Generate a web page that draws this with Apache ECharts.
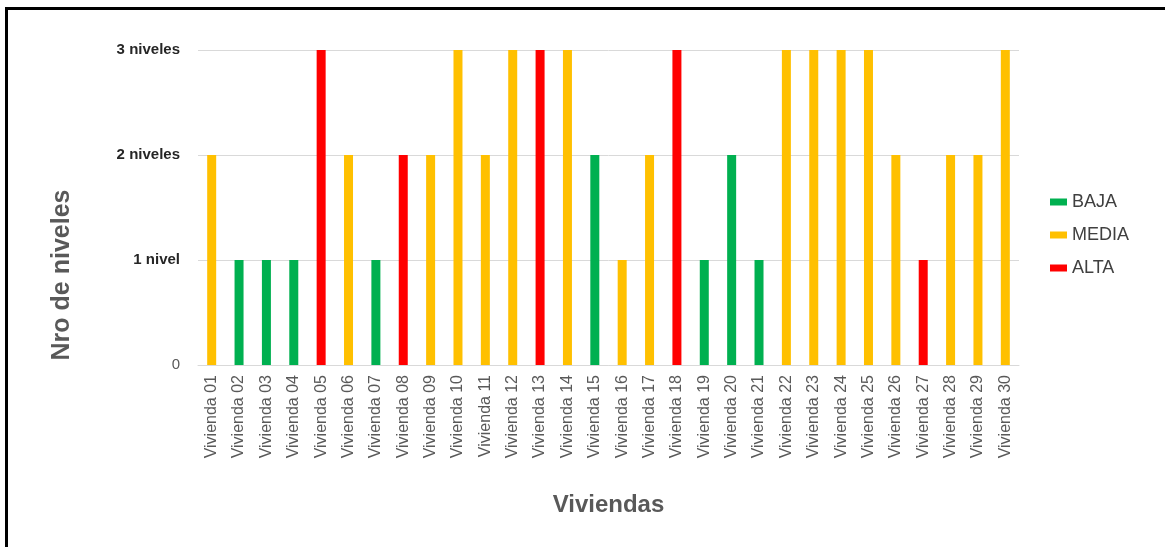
<!DOCTYPE html>
<html>
<head>
<meta charset="utf-8">
<script src="https://cdn.jsdelivr.net/npm/echarts@6/dist/echarts.min.js"></script>
<style>
  body { margin: 0; background: #fff; }
  #chart { position: absolute; left: 0; top: 0; width: 1165px; height: 547px; }
  #frame { position: absolute; left: 5px; top: 7px; right: 0; bottom: 0;
           border-left: 3px solid #000; border-top: 3px solid #000; pointer-events: none; }
</style>
</head>
<body>
<div id="chart"></div>
<div id="frame"></div>
<script>
// datos
var viviendas = [];
for (var i = 1; i <= 30; i++) {
    viviendas.push('Vivienda ' + (i < 10 ? '0' + i : i));
}
var niveles = [2, 1, 1, 1, 3, 2, 1, 2, 2, 3, 2, 3, 3, 3, 2, 1, 2, 3, 1, 2, 1, 3, 3, 3, 3, 2, 1, 2, 2, 3];
var riesgo = ['MEDIA', 'BAJA', 'BAJA', 'BAJA', 'ALTA', 'MEDIA', 'BAJA', 'ALTA', 'MEDIA', 'MEDIA',
              'MEDIA', 'MEDIA', 'ALTA', 'MEDIA', 'BAJA', 'MEDIA', 'MEDIA', 'ALTA', 'BAJA', 'BAJA',
              'BAJA', 'MEDIA', 'MEDIA', 'MEDIA', 'MEDIA', 'MEDIA', 'ALTA', 'MEDIA', 'MEDIA', 'MEDIA'];
var categorias = ['BAJA', 'MEDIA', 'ALTA'];
var colores = ['#00B050', '#FFC000', '#FF0000'];
var etiquetasY = ['0', '1 nivel', '2 niveles', '3 niveles'];

var chart = echarts.init(document.getElementById('chart'));

// una serie por categoria, apiladas para que cada barra quede centrada
var series = categorias.map(function (cat, k) {
    return {
        name: cat,
        type: 'bar',
        stack: 'total',
        barWidth: 9,
        itemStyle: { color: colores[k] },
        data: niveles.map(function (v, j) { return riesgo[j] === cat ? v : '-'; })
    };
});

var option = {
    animation: false,
    grid: { left: 198, right: 146, top: 50, bottom: 182 },
    // titulo del eje Y (en el original no esta centrado con el area)
    graphic: [{
        type: 'text',
        x: 62,
        y: 275,
        rotation: Math.PI / 2,
        style: {
            text: 'Nro de niveles',
            align: 'center',
            verticalAlign: 'middle',
            fontFamily: 'Liberation Sans',
            fontSize: 25,
            fontWeight: 'bold',
            fill: '#595959'
        }
    }],
    legend: {
        orient: 'vertical',
        left: 1045,
        top: 188,
        itemWidth: 17,
        itemHeight: 7,
        itemGap: 15,
        icon: 'rect',
        textStyle: { fontFamily: 'Liberation Sans', fontSize: 18, color: '#404040' },
        data: categorias
    },
    xAxis: {
        type: 'category',
        data: viviendas,
        name: 'Viviendas',
        nameLocation: 'middle',
        nameGap: 128,
        nameTextStyle: { fontFamily: 'Liberation Sans', fontSize: 24, fontWeight: 'bold', color: '#595959' },
        axisLine: { lineStyle: { color: '#d9d9d9' } },
        axisTick: { show: false },
        axisLabel: {
            rotate: 90,
            interval: 0,
            margin: 10,
            fontFamily: 'Liberation Sans',
            fontSize: 16,
            color: '#595959'
        }
    },
    yAxis: {
        type: 'value',
        min: 0,
        max: 3,
        interval: 1,
        splitLine: { lineStyle: { color: '#d9d9d9' } },
        axisLabel: {
            margin: 18,
            formatter: function (v) {
                return v === 0 ? '{n|' + etiquetasY[0] + '}' : '{b|' + etiquetasY[v] + '}';
            },
            rich: {
                n: { fontFamily: 'Liberation Sans', fontSize: 15, color: '#595959' },
                b: { fontFamily: 'Liberation Sans', fontSize: 15, fontWeight: 'bold', color: '#262626' }
            }
        }
    },
    series: series
};

chart.setOption(option);
</script>
</body>
</html>
